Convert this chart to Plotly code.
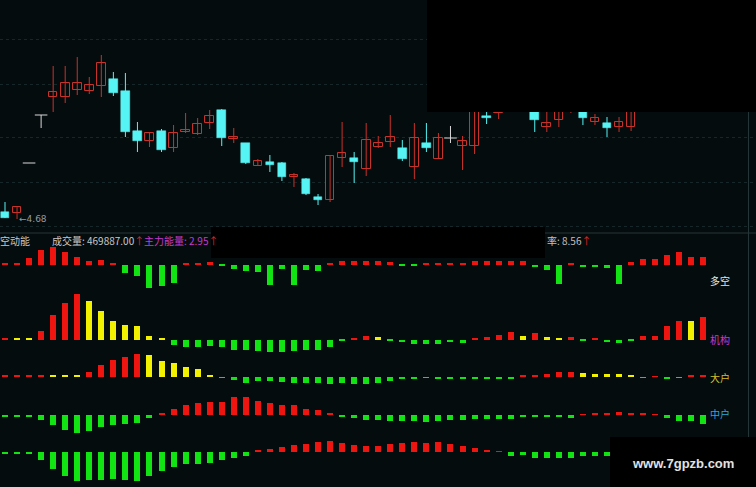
import plotly.graph_objects as go

W, H = 756, 487
BG = '#050c0e'
RED_C = '#c8322a'
CYAN = '#56f4f4'
DOJI = '#d8d8d8'
RED = '#ee1410'
GREEN = '#12e414'
YELLOW = '#f2f200'

# ---------------- data ----------------
opens = [4.89, 4.86, 6.36, 7.80, 8.34, 8.34, 8.55, 8.52, 8.67, 8.88,
         8.52, 7.32, 7.02, 7.32, 6.81, 7.29, 7.23, 7.56, 7.95, 7.08,
         6.96, 6.27, 6.39, 6.36, 5.94, 5.88, 5.34, 5.25, 6.51, 6.51,
         6.18, 6.84, 6.99, 6.81, 6.24, 6.96, 6.48, 7.11, 6.87, 6.87,
         7.77, 7.86, 8.25, 8.55, 8.25, 7.44, 7.65, 8.10, 8.13, 7.59,
         7.56, 7.44, 7.44, 8.31, 8.61, 8.91, 9.15, 9.39, 9.09]
highs = [5.19, 5.04, 6.36, 7.80, 9.27, 9.27, 9.54, 8.94, 9.60, 9.09,
         9.06, 7.59, 7.29, 7.38, 7.50, 7.86, 7.71, 7.95, 7.98, 7.41,
         6.96, 6.48, 6.60, 6.39, 6.06, 5.91, 5.43, 6.60, 7.59, 6.69,
         7.56, 7.17, 7.80, 7.05, 7.56, 7.56, 7.26, 7.47, 7.17, 8.55,
         8.10, 8.31, 9.00, 8.85, 8.40, 8.25, 8.40, 8.49, 8.31, 7.83,
         7.74, 7.74, 8.49, 8.85, 9.15, 9.45, 9.69, 9.60, 9.51]
lows = [4.71, 4.68, 6.36, 7.41, 7.89, 8.16, 8.40, 8.43, 8.34, 8.37,
        7.14, 6.69, 6.84, 6.69, 6.69, 7.26, 7.20, 7.38, 6.87, 6.96,
        6.33, 6.27, 6.09, 5.82, 5.64, 5.40, 5.10, 5.19, 6.24, 5.76,
        5.97, 6.81, 6.84, 6.42, 5.88, 6.69, 6.48, 6.96, 6.15, 6.63,
        7.53, 7.68, 8.01, 8.10, 7.29, 7.29, 7.44, 7.86, 7.50, 7.50,
        7.14, 7.29, 7.32, 8.13, 8.40, 8.70, 8.91, 8.85, 8.79]
closes = [4.71, 5.04, 6.36, 7.80, 8.49, 8.76, 8.76, 8.70, 9.36, 8.46,
          7.29, 7.02, 7.26, 6.75, 7.26, 7.35, 7.53, 7.77, 7.11, 7.14,
          6.36, 6.42, 6.30, 5.94, 6.00, 5.43, 5.25, 6.57, 6.66, 6.39,
          7.05, 6.96, 7.14, 6.48, 7.11, 6.81, 7.11, 7.11, 7.02, 8.25,
          7.71, 8.10, 8.70, 8.40, 7.65, 7.56, 8.19, 8.25, 7.71, 7.71,
          7.41, 7.59, 8.25, 8.61, 8.91, 9.15, 9.45, 9.09, 9.27]

duokong = [1.5, 1.5, 7, 15, 18, 13, 8, 3.5, 4.5, 1.5,
           -8, -11, -23, -21, -18, 1.5, 1.5, 3, -1.5, -4,
           -6, -7, -20, -4, -20, -5, -6, 1.5, 4, 3.5,
           3.5, 4, 3, -1.5, -1.5, 1.5, 1.2, 1.8, 1.2, 4,
           4, 3.5, 4, 4, -2, -5, -19, 2, -2, -2,
           -3, -19, 2.5, 6, 6, 10, 13, 8, 8]
jigou = [1.5, 1.3, 1.1, 9, 25, 37, 46, 39, 29, 19,
         15, 14, 3.5, 1.0, -5, -7, -7, -6, -7, -10,
         -10, -11, -12, -12, -11, -10, -10, -7, -1.5, 1.2,
         4, 3, -1.2, -2, -4.5, -4.5, -4.5, -2, -3, 2,
         3, 5, 8, 4, 6.5, 3, 2, 3, -1.0, 1.0,
         -2, -3.5, -1.5, 4, 4, 14, 19, 18.5, 23]
dahu = [1.4, 1.4, 1.4, 1.5, 1.3, 1.2, 1.1, 5, 12, 17,
        20, 23, 22.5, 16, 14, 10, 8, 2.5, -0.8, -3.3,
        -6, -3.5, -3.5, -4.5, -5.5, -5.5, -6, -6.5, -6, -6.5,
        -6.5, -5.5, -4, -2, -1.2, -1.0, -1.2, -2, -2, -2,
        -1.5, -1.5, -1.2, 1.3, 1.4, 3.5, 5, 5.3, 4, 3.5,
        3, 2.7, 2.4, -0.8, 0.9, -1.2, -1.0, 1.3, 1.5]
zhonghu = [-1.2, -1.2, -1.2, -4.5, -10, -15, -18, -16, -12, -10,
           -9, -8, -3, 2, 6.5, 10, 12, 13, 13, 18,
           18, 14, 12, 10, 10, 6, 5, 1.5, -1.2, -2.5,
           -5, -5, -5.5, -5.5, -5.5, -6.5, -5.5, -5, -4.5, -3.5,
           -3.5, -3.5, -3.5, -1.5, -1.5, -1.2, -1.2, -2.5, 1.0, 1.2,
           1.5, 3, 1.5, 1.2, 1.0, -3, -6, -6, -9]
sanhu = [-1.2, -1.2, -1.2, -7.5, -17, -24, -29, -28, -28, -27,
         -28, -29, -24, -19, -15, -12, -12, -11, -8, -6,
         -3.5, 1.2, 3, 5, 7, 8, 10, 11, 9, 7,
         6, 6.5, 8, 9, 10, 9, 10, 8, 6, 4,
         1.2, 0.8, -4, -3, -5.5, -5.5, -5.5, -5.5, -4, -4,
         -3.5, -3, -3, -2.5, -2, -2, -1.5, -1.5, -1]

grid_prices = [10.08, 8.73, 7.14, 5.79, 4.47]
low_label = '4.68'
info_volume = '成交量: 469887.00'
info_main = '主力能量: 2.95'
info_rate = '率: 8.56'
row_labels = ['多空', '机构', '大户', '中户']

# ---------------- layout helpers ----------------
STEP = 12.04      # pixels per bar
X0 = 5            # pixel of first bar
PRICE_TOP = 11.25 # price at pixel 0
PRICE_PER_PX = 0.03

def pdom(top, bottom):
    return [1 - bottom / H, 1 - top / H]

n = len(closes)
idx = list(range(n))

fig = go.Figure()

def wick_trace(sel, color):
    xs, ys = [], []
    for i in sel:
        xs += [i, i, None]
        ys += [lows[i], highs[i], None]
    return go.Scatter(x=xs, y=ys, mode='lines', line=dict(color=color, width=1),
                      xaxis='x', yaxis='y', hoverinfo='skip', showlegend=False)

up = [i for i in idx if closes[i] > opens[i]]
dn = [i for i in idx if closes[i] < opens[i]]
dj = [i for i in idx if closes[i] == opens[i]]

fig.add_trace(wick_trace(up, RED_C))
fig.add_trace(wick_trace(dn, CYAN))
fig.add_trace(wick_trace(dj, DOJI))

fig.add_trace(go.Bar(x=up, y=[closes[i] - opens[i] for i in up], base=[opens[i] for i in up],
                     width=0.72, marker=dict(color=BG, line=dict(color=RED_C, width=1)),
                     xaxis='x', yaxis='y', showlegend=False, hoverinfo='skip'))
fig.add_trace(go.Bar(x=dn, y=[opens[i] - closes[i] for i in dn], base=[closes[i] for i in dn],
                     width=0.72, marker=dict(color=CYAN, line=dict(color=CYAN, width=0.5)),
                     xaxis='x', yaxis='y', showlegend=False, hoverinfo='skip'))
fig.add_trace(go.Scatter(x=dj, y=[closes[i] for i in dj], mode='markers',
                         marker=dict(symbol='line-ew', size=9, line=dict(color=DOJI, width=1)),
                         xaxis='x', yaxis='y', showlegend=False, hoverinfo='skip'))

def colors_for(vals, use_yellow):
    out = []
    for k, v in enumerate(vals):
        if v < 0:
            out.append(GREEN)
        elif use_yellow and k > 0 and v < vals[k - 1]:
            out.append(YELLOW)
        else:
            out.append(RED)
    return out

rows = [
    (duokong, False, 240, 291, 264.5),
    (jigou, True, 291, 353, 339.5),
    (dahu, True, 353, 391, 377),
    (zhonghu, False, 391, 436, 415),
    (sanhu, False, 436, 487, 452),
]

layout_axes = {}
for r, (vals, yel, top, bottom, base) in enumerate(rows):
    ax = 'y%d' % (r + 2)
    fig.add_trace(go.Bar(x=idx, y=vals, width=0.5, marker=dict(color=colors_for(vals, yel), line=dict(width=0)),
                         xaxis='x', yaxis=ax, showlegend=False, hoverinfo='skip'))
    layout_axes['yaxis%d' % (r + 2)] = dict(domain=pdom(top, bottom), range=[base - bottom, base - top],
                                            anchor='x', showgrid=False, zeroline=False,
                                            showticklabels=False, ticks='', fixedrange=True)

fig.update_layout(
    width=W, height=H, autosize=False,
    margin=dict(l=0, r=0, t=0, b=0),
    paper_bgcolor=BG, plot_bgcolor=BG,
    barmode='overlay', bargap=0, hovermode=False, showlegend=False,
    xaxis=dict(range=[-X0 / STEP, (W - X0) / STEP], domain=[0, 1], visible=False, fixedrange=True),
    yaxis=dict(domain=pdom(0, 232), range=[PRICE_TOP - PRICE_PER_PX * 232, PRICE_TOP],
               tickvals=grid_prices, showticklabels=False, ticks='', zeroline=False,
               showgrid=True, gridcolor='#172628', griddash='dot', gridwidth=1, fixedrange=True),
    **layout_axes,
)

shapes = [
    dict(type='line', xref='paper', yref='paper', x0=0, x1=1, y0=1 - 233 / H, y1=1 - 233 / H,
         line=dict(color='#243437', width=1), layer='below'),
    dict(type='line', xref='paper', yref='paper', x0=748.5 / W, x1=748.5 / W, y0=0, y1=1,
         line=dict(color='#243437', width=1), layer='below'),
    dict(type='rect', xref='paper', yref='paper', x0=427 / W, x1=1, y0=1 - 112 / H, y1=1,
         fillcolor='#000000', line=dict(width=0), layer='above'),
    dict(type='rect', xref='paper', yref='paper', x0=211 / W, x1=545 / W, y0=1 - 258 / H, y1=1 - 227 / H,
         fillcolor='#000000', line=dict(width=0), layer='above'),
    dict(type='rect', xref='paper', yref='paper', x0=610 / W, x1=1, y0=0, y1=1 - 437 / H,
         fillcolor='#000000', line=dict(width=0), layer='above'),
]
fig.update_layout(shapes=shapes)

FONT = 'Noto Sans CJK SC'

def ann(px, py, text, color, size=11, anchor='left', family=FONT, bold=False):
    fig.add_annotation(xref='paper', yref='paper', x=px / W, y=1 - py / H,
                       text=('<b>%s</b>' % text) if bold else text,
                       showarrow=False, xanchor=anchor, yanchor='middle',
                       font=dict(color=color, size=size, family=family))

arrow = "<span style='color:#e02424'>↑</span>"
ann(-2, 241, '空动能', '#c8c8c8', 10)
ann(50, 241, info_volume + arrow, '#c8c8c8', 10)
ann(142, 241, info_main + arrow, '#c23ad0', 10)
ann(545, 241, info_rate + arrow, '#c0c0c0', 10)

label_colors = ['#e6e6e6', '#c83ad0', '#d8c02a', '#2ea6d6']
label_y = [280, 339, 377, 413]
for t, c, yy in zip(row_labels, label_colors, label_y):
    ann(708, yy, t, c, 10)

fig.add_annotation(x=1, y=lows[1], xref='x', yref='y', text='←' + low_label, showarrow=False,
                   xanchor='left', yanchor='middle', font=dict(color='#9a9a9a', size=9, family='DejaVu Sans'))

ann(683, 463, 'www.7gpzb.com', '#e2e2e2', 13, anchor='center', family='Liberation Sans', bold=True)

fig.write_html('out.html', config={'displayModeBar': False},
               post_script="document.body.style.margin='0';document.body.style.background='%s';" % BG)
